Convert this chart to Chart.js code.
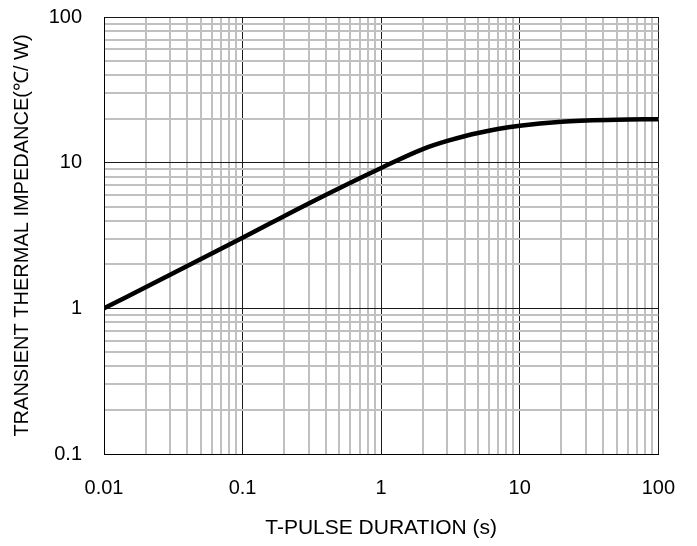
<!DOCTYPE html>
<html>
<head>
<meta charset="utf-8">
<script src="https://cdn.jsdelivr.net/npm/chart.js@4.4.1/dist/chart.umd.min.js"></script>
<style>
  html, body { margin: 0; padding: 0; background: #fff; }
  #wrap { width: 697px; height: 546px; }
</style>
</head>
<body>
<div id="wrap"><canvas id="chart" width="697" height="546"></canvas></div>
<script>
// pulse duration (s) and impedance (C/W)
const pulseDuration = [0.01, 0.03, 0.1, 0.3, 1, 2, 3, 5, 10, 20, 50, 100];
const impedance = [1.0, 1.70, 3.05, 5.25, 9.2, 12.4, 14.1, 16.0, 17.9, 19.1, 19.7, 19.9];

const xTickLabels = ['0.01', '0.1', '1', '10', '100'];
const yTickLabels = ['0.1', '1', '10', '100'];
const xTitle = 'T-PULSE DURATION (s)';
const yTitle = 'TRANSIENT THERMAL IMPEDANCE(\u2103/ W)';

const FONT = "'Liberation Sans', Arial, sans-serif";

// 1..9 x each decade between the first and last labelled tick
function decadeTicks(labels) {
    const ticks = [];
    const lo = Math.round(Math.log10(parseFloat(labels[0])));
    const hi = Math.round(Math.log10(parseFloat(labels[labels.length - 1])));
    for (let e = lo; e < hi; e++) {
        for (let m = 1; m < 10; m++) {
            ticks.push({ value: parseFloat((m * Math.pow(10, e)).toPrecision(3)) });
        }
    }
    ticks.push({ value: Math.pow(10, hi) });
    return ticks;
}

function isMajor(v) {
    const l = Math.log10(v);
    return Math.abs(l - Math.round(l)) < 1e-6;
}

function labelFor(labels, v) {
    if (!isMajor(v)) return '';
    const hit = labels.find(s => Math.abs(parseFloat(s) - v) < v * 1e-6);
    return hit || '';
}

const gridOpts = {
    color: ctx => isMajor(ctx.tick.value) ? '#1a1a1a' : '#c0c0c0',
    lineWidth: ctx => isMajor(ctx.tick.value) ? 1 : 2,
    drawTicks: false
};

new Chart(document.getElementById('chart'), {
    type: 'line',
    data: {
        datasets: [{
            data: pulseDuration.map((x, i) => ({ x: x, y: impedance[i] })),
            borderColor: '#000',
            borderWidth: 4.5,
            pointRadius: 0,
            cubicInterpolationMode: 'monotone',
            fill: false
        }]
    },
    options: {
        responsive: false,
        animation: false,
        layout: { padding: { top: 17, right: 38, bottom: 0, left: 0 } },
        plugins: { legend: { display: false }, tooltip: { enabled: false } },
        scales: {
            x: {
                type: 'logarithmic',
                min: parseFloat(xTickLabels[0]),
                max: parseFloat(xTickLabels[xTickLabels.length - 1]),
                afterBuildTicks: s => { s.ticks = decadeTicks(xTickLabels); },
                afterFit: s => { s.height = 92; },
                grid: gridOpts,
                border: { display: true, color: '#000', width: 1 },
                ticks: {
                    autoSkip: false, maxRotation: 0, minRotation: 0,
                    padding: 22, color: '#000',
                    font: { family: FONT, size: 20 },
                    callback: v => labelFor(xTickLabels, v)
                },
                title: {
                    display: true, text: xTitle, color: '#000',
                    font: { family: FONT, size: 21 },
                    padding: { top: 0, bottom: 5 }
                }
            },
            y: {
                type: 'logarithmic',
                min: parseFloat(yTickLabels[0]),
                max: parseFloat(yTickLabels[yTickLabels.length - 1]),
                afterBuildTicks: s => { s.ticks = decadeTicks(yTickLabels); },
                afterFit: s => {
                    s.width = 104;
                    s.paddingTop = 0;
                    s.paddingBottom = 0;
                },
                grid: gridOpts,
                border: { display: true, color: '#000', width: 1 },
                ticks: {
                    autoSkip: false, padding: 22, color: '#000',
                    font: { family: FONT, size: 20 },
                    callback: v => labelFor(yTickLabels, v)
                },
                title: {
                    display: true, text: yTitle, color: '#000',
                    font: { family: FONT, size: 20 },
                    padding: { top: 10, bottom: 0 }
                }
            }
        }
    }
});
</script>
</body>
</html>
